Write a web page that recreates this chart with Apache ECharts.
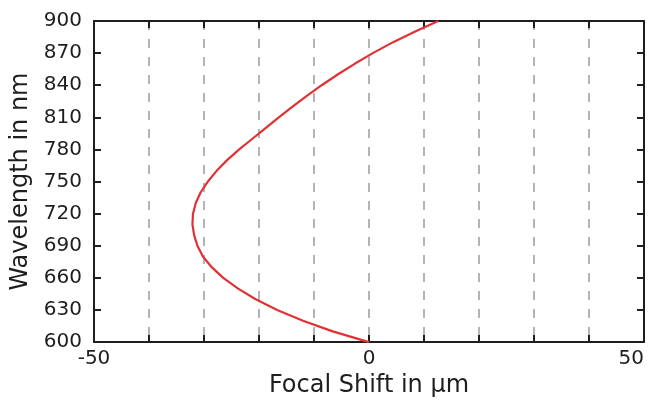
<!DOCTYPE html>
<html>
<head>
<meta charset="utf-8">
<script src="https://cdn.jsdelivr.net/npm/echarts@6/dist/echarts.min.js"></script>
<style>
  html, body { margin: 0; padding: 0; background: #fff; }
  #chart { width: 648px; height: 403px; }
</style>
</head>
<body>
<div id="chart"></div>
<script>
// Wavelength (nm) and the corresponding focal shift (µm)
const wavelengths = [600, 610, 620, 630, 640, 650, 660, 670, 680, 690, 700,
                     710, 720, 730, 740, 750, 760, 770, 780, 790, 800,
                     810, 820, 830, 840, 850, 860, 870, 880, 890, 900];
const focalShift  = [0, -6.6, -12.0, -16.7, -20.6, -23.8, -26.5, -28.6, -30.2, -31.2, -31.8,
                     -32.1, -32.0, -31.5, -30.6, -29.3, -27.7, -25.8, -23.6, -21.2, -18.8,
                     -16.4, -13.9, -11.3, -8.6, -5.7, -2.6, 0.7, 4.3, 8.3, 12.6];

const xTicks = { min: -50, max: 50, step: 10, labelled: [-50, 0, 50] };
const yTicks = { min: 600, max: 900, step: 30 };

const font = 'DejaVu Sans';
const ink = '#1e1e1e';

const points = wavelengths.map((w, i) => [focalShift[i], w]);

const frameLine = { show: true, onZero: false, lineStyle: { color: ink, width: 2 } };
const inTick = { show: true, inside: true, length: 7, lineStyle: { color: ink, width: 2 } };

const chart = echarts.init(document.getElementById('chart'), null, { renderer: 'canvas' });
chart.setOption({
  animation: false,
  backgroundColor: '#fff',
  grid: { left: 94, right: 4, top: 21, bottom: 52, containLabel: false },
  xAxis: [
    {
      type: 'value', position: 'bottom',
      min: xTicks.min, max: xTicks.max, interval: xTicks.step,
      name: 'Focal Shift in µm', nameLocation: 'middle', nameGap: 26,
      nameTextStyle: { fontFamily: font, fontSize: 24, color: ink },
      axisLine: frameLine, axisTick: inTick,
      axisLabel: {
        fontFamily: font, fontSize: 20, color: ink, margin: 7,
        alignMaxLabel: 'right',
        formatter: v => xTicks.labelled.includes(v) ? String(v) : ''
      },
      splitLine: { show: true, lineStyle: { color: '#b4b4b4', width: 2, type: [9, 9] } }
    },
    {
      type: 'value', position: 'top',
      min: xTicks.min, max: xTicks.max, interval: xTicks.step,
      axisLine: frameLine, axisTick: inTick,
      axisLabel: { show: false }, splitLine: { show: false }
    }
  ],
  yAxis: [
    {
      type: 'value', position: 'left',
      min: yTicks.min, max: yTicks.max, interval: yTicks.step,
      name: 'Wavelength in nm', nameLocation: 'middle', nameGap: 58,
      nameTextStyle: { fontFamily: font, fontSize: 24, color: ink },
      axisLine: frameLine, axisTick: inTick,
      axisLabel: { fontFamily: font, fontSize: 20, color: ink, margin: 12 },
      splitLine: { show: false }
    },
    {
      type: 'value', position: 'right',
      min: yTicks.min, max: yTicks.max, interval: yTicks.step,
      axisLine: frameLine, axisTick: inTick,
      axisLabel: { show: false }, splitLine: { show: false }
    }
  ],
  series: [{
    type: 'line',
    xAxisIndex: 0, yAxisIndex: 0,
    data: points,
    smooth: false,
    showSymbol: false,
    lineStyle: { color: '#e03234', width: 2.2, join: 'round' },
    z: 5
  }]
});
</script>
</body>
</html>
